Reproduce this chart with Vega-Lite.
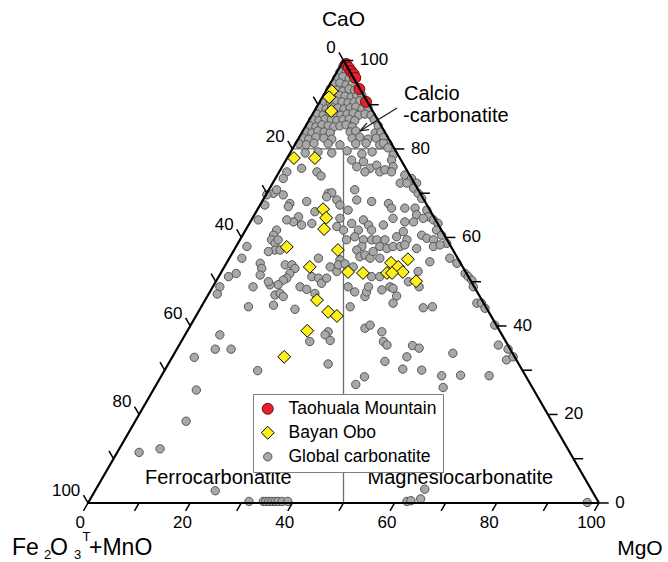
{
"$schema": "https://vega.github.io/schema/vega-lite/v6.json",
"width": 668, "height": 562, "autosize": "none", "padding": 0,
"config": {"view": {"stroke": null}, "font": "Liberation Sans",
 "legend": {"orient": "none", "legendX": 253, "legendY": 394, "padding": 6, "rowPadding": 5, "strokeColor": "#808080", "fillColor": "white", "labelFont": "Liberation Sans", "labelFontSize": 17.5, "labelColor": "black", "labelOffset": 12, "labelLimit": 400, "symbolStrokeWidth": 1}},
"datasets": {
 "edges": [{"x":0,"y":0,"x2":100,"y2":0},{"x":0,"y":0,"x2":50,"y2":86.6},{"x":100,"y":0,"x2":50,"y2":86.6}],
 "inner": [{"x":50,"y":0,"x2":50,"y2":69.28},{"x":40,"y":69.28,"x2":60,"y2":69.28}],
 "ticks": [
  {"x":0,"y":0,"x2":-0.9,"y2":-1.56},{"x":10,"y":0,"x2":9.1,"y2":-1.56},{"x":20,"y":0,"x2":19.1,"y2":-1.56},{"x":30,"y":0,"x2":29.1,"y2":-1.56},{"x":40,"y":0,"x2":39.1,"y2":-1.56},{"x":50,"y":0,"x2":49.1,"y2":-1.56},{"x":60,"y":0,"x2":59.1,"y2":-1.56},{"x":70,"y":0,"x2":69.1,"y2":-1.56},{"x":80,"y":0,"x2":79.1,"y2":-1.56},{"x":90,"y":0,"x2":89.1,"y2":-1.56},{"x":100,"y":0,"x2":99.1,"y2":-1.56},
  {"x":100,"y":0,"x2":101.9,"y2":0},{"x":95,"y":8.66,"x2":96.9,"y2":8.66},{"x":90,"y":17.32,"x2":91.9,"y2":17.32},{"x":85,"y":25.98,"x2":86.9,"y2":25.98},{"x":80,"y":34.64,"x2":81.9,"y2":34.64},{"x":75,"y":43.3,"x2":76.9,"y2":43.3},{"x":70,"y":51.96,"x2":71.9,"y2":51.96},{"x":65,"y":60.62,"x2":66.9,"y2":60.62},{"x":60,"y":69.28,"x2":61.9,"y2":69.28},{"x":55,"y":77.94,"x2":56.9,"y2":77.94},{"x":50,"y":86.6,"x2":51.9,"y2":86.6},
  {"x":50,"y":86.6,"x2":49.1,"y2":88.16},{"x":45,"y":77.94,"x2":44.1,"y2":79.5},{"x":40,"y":69.28,"x2":39.1,"y2":70.84},{"x":35,"y":60.62,"x2":34.1,"y2":62.18},{"x":30,"y":51.96,"x2":29.1,"y2":53.52},{"x":25,"y":43.3,"x2":24.1,"y2":44.86},{"x":20,"y":34.64,"x2":19.1,"y2":36.2},{"x":15,"y":25.98,"x2":14.1,"y2":27.54},{"x":10,"y":17.32,"x2":9.1,"y2":18.88},{"x":5,"y":8.66,"x2":4.1,"y2":10.22},{"x":0,"y":0,"x2":-0.9,"y2":1.56}],
 "arrow": [{"x":60.47,"y":77.3,"x2":53.23,"y2":72.8},{"x":53.23,"y":72.8,"x2":54.6,"y2":74.37},{"x":53.23,"y":72.8,"x2":54.99,"y2":73.07}],
 "bottomLabels": [{"x":-1.5,"y":-4,"t":"0"},{"x":18.5,"y":-4,"t":"20"},{"x":38.5,"y":-4,"t":"40"},{"x":58.5,"y":-4,"t":"60"},{"x":78.5,"y":-4,"t":"80"},{"x":98.5,"y":-4,"t":"100"}],
 "rightLabels": [{"x":53.2,"y":86.6,"t":"100"},{"x":63.2,"y":69.28,"t":"80"},{"x":73.2,"y":51.96,"t":"60"},{"x":83.2,"y":34.64,"t":"40"},{"x":93.2,"y":17.32,"t":"20"},{"x":103.2,"y":0,"t":"0"}],
 "leftLabels": [{"x":48.5,"y":89.0,"t":"0"},{"x":38.5,"y":71.68,"t":"20"},{"x":28.5,"y":54.36,"t":"40"},{"x":18.5,"y":37.04,"t":"60"},{"x":8.5,"y":19.72,"t":"80"},{"x":-1.5,"y":2.4,"t":"100"}],
 "titles": [{"x":50,"y":94.5,"t":"CaO"},{"x":108,"y":-9.0,"t":"MgO"}],
 "names": [{"x":11.15,"y":3.72,"t":"Ferrocarbonatite"},{"x":54.7,"y":3.72,"t":"Magnesiocarbonatite"},{"x":61.84,"y":78.87,"t":"Calcio"},{"x":61.64,"y":74.56,"t":"-carbonatite"}],
 "feMain": [{"x":-14.88,"y":-10.17,"t":"Fe"},{"x":-7.44,"y":-10.17,"t":"O"},{"x":0.2,"y":-10.17,"t":"+MnO"}],
 "feSmall": [{"x":-8.61,"y":-10.95,"t":"2"},{"x":-2.74,"y":-10.95,"t":"3"},{"x":-1.08,"y":-7.43,"t":"T"}],
 "points": [
{"x":49.9,"y":85.5,"g":"Global carbonatite"},{"x":49.3,"y":84.3,"g":"Global carbonatite"},{"x":50.5,"y":84.3,"g":"Global carbonatite"},
{"x":48.7,"y":83.2,"g":"Global carbonatite"},{"x":49.9,"y":83.4,"g":"Global carbonatite"},{"x":51.1,"y":83.0,"g":"Global carbonatite"},
{"x":48.1,"y":82.0,"g":"Global carbonatite"},{"x":49.3,"y":82.2,"g":"Global carbonatite"},{"x":50.5,"y":81.8,"g":"Global carbonatite"},{"x":51.7,"y":82.0,"g":"Global carbonatite"},
{"x":47.4,"y":81.0,"g":"Global carbonatite"},{"x":48.7,"y":80.8,"g":"Global carbonatite"},{"x":49.9,"y":80.6,"g":"Global carbonatite"},{"x":51.1,"y":81.0,"g":"Global carbonatite"},{"x":52.2,"y":80.8,"g":"Global carbonatite"},
{"x":46.8,"y":79.6,"g":"Global carbonatite"},{"x":47.9,"y":79.4,"g":"Global carbonatite"},{"x":49.1,"y":79.8,"g":"Global carbonatite"},{"x":50.3,"y":79.6,"g":"Global carbonatite"},{"x":51.5,"y":79.4,"g":"Global carbonatite"},{"x":52.6,"y":79.6,"g":"Global carbonatite"},{"x":53.6,"y":79.8,"g":"Global carbonatite"},
{"x":46.2,"y":78.5,"g":"Global carbonatite"},{"x":47.4,"y":78.3,"g":"Global carbonatite"},{"x":48.5,"y":78.7,"g":"Global carbonatite"},{"x":49.7,"y":78.5,"g":"Global carbonatite"},{"x":50.9,"y":78.3,"g":"Global carbonatite"},{"x":52.1,"y":78.5,"g":"Global carbonatite"},{"x":53.2,"y":78.7,"g":"Global carbonatite"},
{"x":45.4,"y":77.3,"g":"Global carbonatite"},{"x":46.6,"y":77.1,"g":"Global carbonatite"},{"x":47.7,"y":77.5,"g":"Global carbonatite"},{"x":48.9,"y":77.3,"g":"Global carbonatite"},{"x":50.1,"y":77.1,"g":"Global carbonatite"},{"x":51.3,"y":77.3,"g":"Global carbonatite"},{"x":52.4,"y":77.5,"g":"Global carbonatite"},{"x":53.6,"y":77.1,"g":"Global carbonatite"},{"x":54.8,"y":77.3,"g":"Global carbonatite"},
{"x":44.8,"y":76.1,"g":"Global carbonatite"},{"x":46.0,"y":75.9,"g":"Global carbonatite"},{"x":47.2,"y":76.3,"g":"Global carbonatite"},{"x":48.3,"y":76.1,"g":"Global carbonatite"},{"x":49.5,"y":75.9,"g":"Global carbonatite"},{"x":50.7,"y":76.1,"g":"Global carbonatite"},{"x":51.9,"y":76.3,"g":"Global carbonatite"},{"x":53.0,"y":75.9,"g":"Global carbonatite"},{"x":54.2,"y":76.1,"g":"Global carbonatite"},{"x":55.4,"y":75.9,"g":"Global carbonatite"},
{"x":44.0,"y":75.0,"g":"Global carbonatite"},{"x":45.2,"y":74.8,"g":"Global carbonatite"},{"x":46.4,"y":75.1,"g":"Global carbonatite"},{"x":47.6,"y":75.0,"g":"Global carbonatite"},{"x":48.7,"y":74.8,"g":"Global carbonatite"},{"x":49.9,"y":75.0,"g":"Global carbonatite"},{"x":51.1,"y":75.1,"g":"Global carbonatite"},{"x":52.2,"y":74.8,"g":"Global carbonatite"},{"x":56.0,"y":75.0,"g":"Global carbonatite"},
{"x":43.4,"y":73.8,"g":"Global carbonatite"},{"x":44.6,"y":73.6,"g":"Global carbonatite"},{"x":45.8,"y":74.0,"g":"Global carbonatite"},{"x":47.0,"y":73.8,"g":"Global carbonatite"},{"x":48.1,"y":73.6,"g":"Global carbonatite"},{"x":49.3,"y":73.8,"g":"Global carbonatite"},{"x":50.5,"y":74.0,"g":"Global carbonatite"},{"x":51.7,"y":73.6,"g":"Global carbonatite"},{"x":56.8,"y":73.8,"g":"Global carbonatite"},
{"x":42.7,"y":72.6,"g":"Global carbonatite"},{"x":43.8,"y":72.4,"g":"Global carbonatite"},{"x":45.0,"y":72.8,"g":"Global carbonatite"},{"x":46.2,"y":72.6,"g":"Global carbonatite"},{"x":47.4,"y":72.4,"g":"Global carbonatite"},{"x":51.3,"y":72.6,"g":"Global carbonatite"},{"x":52.4,"y":72.8,"g":"Global carbonatite"},{"x":56.2,"y":72.4,"g":"Global carbonatite"},{"x":57.3,"y":72.6,"g":"Global carbonatite"},
{"x":42.1,"y":71.4,"g":"Global carbonatite"},{"x":43.2,"y":71.2,"g":"Global carbonatite"},{"x":44.6,"y":71.6,"g":"Global carbonatite"},{"x":46.2,"y":71.4,"g":"Global carbonatite"},{"x":47.7,"y":71.2,"g":"Global carbonatite"},{"x":51.7,"y":71.4,"g":"Global carbonatite"},{"x":53.2,"y":71.6,"g":"Global carbonatite"},{"x":54.8,"y":71.2,"g":"Global carbonatite"},{"x":56.4,"y":71.4,"g":"Global carbonatite"},{"x":57.9,"y":71.6,"g":"Global carbonatite"},
{"x":41.3,"y":70.3,"g":"Global carbonatite"},{"x":42.7,"y":70.1,"g":"Global carbonatite"},{"x":44.2,"y":70.4,"g":"Global carbonatite"},{"x":47.0,"y":70.3,"g":"Global carbonatite"},{"x":49.3,"y":70.1,"g":"Global carbonatite"},{"x":52.4,"y":70.3,"g":"Global carbonatite"},{"x":54.4,"y":70.4,"g":"Global carbonatite"},{"x":57.1,"y":70.1,"g":"Global carbonatite"},{"x":58.7,"y":70.3,"g":"Global carbonatite"},
{"x":42.5,"y":68.5,"g":"Global carbonatite"},{"x":45.0,"y":68.7,"g":"Global carbonatite"},{"x":47.7,"y":68.5,"g":"Global carbonatite"},{"x":50.7,"y":68.9,"g":"Global carbonatite"},{"x":53.6,"y":68.3,"g":"Global carbonatite"},{"x":55.6,"y":68.7,"g":"Global carbonatite"},
{"x":41.8,"y":65.5,"g":"Global carbonatite"},{"x":44.8,"y":64.8,"g":"Global carbonatite"},{"x":45.6,"y":64.0,"g":"Global carbonatite"},{"x":38.9,"y":64.8,"g":"Global carbonatite"},{"x":38.2,"y":63.5,"g":"Global carbonatite"},
{"x":51.6,"y":67.1,"g":"Global carbonatite"},{"x":52.6,"y":65.8,"g":"Global carbonatite"},{"x":53.9,"y":66.8,"g":"Global carbonatite"},{"x":55.2,"y":65.5,"g":"Global carbonatite"},{"x":54.2,"y":64.8,"g":"Global carbonatite"},{"x":56.5,"y":66.1,"g":"Global carbonatite"},{"x":57.1,"y":64.8,"g":"Global carbonatite"},
{"x":47.0,"y":60.6,"g":"Global carbonatite"},{"x":47.7,"y":60.7,"g":"Global carbonatite"},{"x":46.7,"y":59.9,"g":"Global carbonatite"},{"x":48.7,"y":59.3,"g":"Global carbonatite"},{"x":49.3,"y":58.3,"g":"Global carbonatite"},{"x":52.2,"y":61.3,"g":"Global carbonatite"},{"x":52.6,"y":59.3,"g":"Global carbonatite"},{"x":55.5,"y":59.0,"g":"Global carbonatite"},
{"x":36.3,"y":60.6,"g":"Global carbonatite"},{"x":36.9,"y":61.3,"g":"Global carbonatite"},{"x":35.0,"y":60.3,"g":"Global carbonatite"},{"x":38.2,"y":60.3,"g":"Global carbonatite"},{"x":39.5,"y":58.6,"g":"Global carbonatite"},{"x":39.2,"y":58.0,"g":"Global carbonatite"},{"x":42.8,"y":59.0,"g":"Global carbonatite"},{"x":44.4,"y":57.0,"g":"Global carbonatite"},{"x":43.8,"y":54.7,"g":"Global carbonatite"},{"x":41.2,"y":56.0,"g":"Global carbonatite"},{"x":40.2,"y":55.0,"g":"Global carbonatite"},{"x":38.9,"y":55.4,"g":"Global carbonatite"},{"x":41.8,"y":54.4,"g":"Global carbonatite"},
{"x":49.3,"y":55.7,"g":"Global carbonatite"},{"x":48.7,"y":54.1,"g":"Global carbonatite"},{"x":50.0,"y":53.4,"g":"Global carbonatite"},{"x":50.6,"y":51.5,"g":"Global carbonatite"},{"x":51.6,"y":54.7,"g":"Global carbonatite"},{"x":50.9,"y":57.3,"g":"Global carbonatite"},{"x":53.9,"y":55.4,"g":"Global carbonatite"},{"x":54.9,"y":54.4,"g":"Global carbonatite"},{"x":55.5,"y":53.4,"g":"Global carbonatite"},{"x":52.9,"y":53.4,"g":"Global carbonatite"},{"x":52.2,"y":52.1,"g":"Global carbonatite"},{"x":53.9,"y":51.5,"g":"Global carbonatite"},{"x":53.6,"y":50.2,"g":"Global carbonatite"},{"x":55.5,"y":51.5,"g":"Global carbonatite"},{"x":56.5,"y":51.5,"g":"Global carbonatite"},{"x":57.1,"y":50.2,"g":"Global carbonatite"},
{"x":36.9,"y":53.4,"g":"Global carbonatite"},{"x":36.3,"y":52.4,"g":"Global carbonatite"},{"x":35.9,"y":51.5,"g":"Global carbonatite"},{"x":36.6,"y":50.8,"g":"Global carbonatite"},{"x":37.2,"y":51.5,"g":"Global carbonatite"},{"x":36.6,"y":49.5,"g":"Global carbonatite"},{"x":37.6,"y":49.5,"g":"Global carbonatite"},{"x":31.1,"y":50.2,"g":"Global carbonatite"},{"x":30.1,"y":47.9,"g":"Global carbonatite"},{"x":45.1,"y":47.9,"g":"Global carbonatite"},{"x":49.3,"y":47.6,"g":"Global carbonatite"},{"x":52.6,"y":49.5,"g":"Global carbonatite"},{"x":53.2,"y":48.2,"g":"Global carbonatite"},{"x":54.2,"y":48.5,"g":"Global carbonatite"},{"x":55.2,"y":47.9,"g":"Global carbonatite"},{"x":55.8,"y":49.2,"g":"Global carbonatite"},{"x":57.1,"y":47.9,"g":"Global carbonatite"},{"x":34.6,"y":58.3,"g":"Global carbonatite"},{"x":33.3,"y":55.4,"g":"Global carbonatite"},{"x":35.3,"y":49.2,"g":"Global carbonatite"},
{"x":27.5,"y":44.3,"g":"Global carbonatite"},{"x":29.0,"y":44.9,"g":"Global carbonatite"},{"x":25.8,"y":42.3,"g":"Global carbonatite"},{"x":25.3,"y":40.9,"g":"Global carbonatite"},{"x":25.8,"y":32.9,"g":"Global carbonatite"},
{"x":33.7,"y":46.9,"g":"Global carbonatite"},{"x":34.0,"y":45.9,"g":"Global carbonatite"},{"x":33.7,"y":44.6,"g":"Global carbonatite"},{"x":38.6,"y":46.6,"g":"Global carbonatite"},{"x":39.9,"y":46.6,"g":"Global carbonatite"},{"x":40.5,"y":45.9,"g":"Global carbonatite"},{"x":39.5,"y":44.9,"g":"Global carbonatite"},{"x":38.9,"y":44.0,"g":"Global carbonatite"},{"x":38.2,"y":43.6,"g":"Global carbonatite"},{"x":37.2,"y":42.7,"g":"Global carbonatite"},{"x":35.6,"y":42.7,"g":"Global carbonatite"},{"x":35.3,"y":43.3,"g":"Global carbonatite"},{"x":36.6,"y":40.7,"g":"Global carbonatite"},{"x":37.6,"y":41.0,"g":"Global carbonatite"},{"x":38.2,"y":40.4,"g":"Global carbonatite"},{"x":32.3,"y":42.3,"g":"Global carbonatite"},{"x":31.4,"y":38.4,"g":"Global carbonatite"},{"x":41.5,"y":42.3,"g":"Global carbonatite"},{"x":42.8,"y":41.8,"g":"Global carbonatite"},{"x":44.4,"y":41.0,"g":"Global carbonatite"},{"x":43.8,"y":44.3,"g":"Global carbonatite"},{"x":45.1,"y":44.0,"g":"Global carbonatite"},{"x":45.7,"y":43.0,"g":"Global carbonatite"},{"x":46.7,"y":44.0,"g":"Global carbonatite"},{"x":47.4,"y":46.2,"g":"Global carbonatite"},{"x":48.7,"y":45.3,"g":"Global carbonatite"},{"x":49.0,"y":46.6,"g":"Global carbonatite"},{"x":50.3,"y":46.8,"g":"Global carbonatite"},{"x":51.9,"y":46.2,"g":"Global carbonatite"},{"x":50.9,"y":42.3,"g":"Global carbonatite"},{"x":52.2,"y":41.3,"g":"Global carbonatite"},{"x":54.2,"y":40.4,"g":"Global carbonatite"},{"x":54.5,"y":41.3,"g":"Global carbonatite"},{"x":54.9,"y":42.3,"g":"Global carbonatite"},{"x":55.5,"y":44.3,"g":"Global carbonatite"},{"x":57.1,"y":44.3,"g":"Global carbonatite"},{"x":51.3,"y":38.4,"g":"Global carbonatite"},{"x":36.3,"y":38.7,"g":"Global carbonatite"},{"x":40.5,"y":37.9,"g":"Global carbonatite"},{"x":54.2,"y":34.2,"g":"Global carbonatite"},{"x":55.2,"y":34.8,"g":"Global carbonatite"},{"x":47.0,"y":33.5,"g":"Global carbonatite"},{"x":46.4,"y":32.9,"g":"Global carbonatite"},{"x":47.4,"y":31.8,"g":"Global carbonatite"},{"x":43.4,"y":31.6,"g":"Global carbonatite"},{"x":24.9,"y":30.1,"g":"Global carbonatite"},{"x":28.0,"y":30.1,"g":"Global carbonatite"},{"x":33.2,"y":25.9,"g":"Global carbonatite"},{"x":47.0,"y":27.2,"g":"Global carbonatite"},{"x":54.1,"y":24.7,"g":"Global carbonatite"},{"x":52.4,"y":23.2,"g":"Global carbonatite"},
{"x":57.8,"y":70.4,"g":"Global carbonatite"},{"x":58.7,"y":69.5,"g":"Global carbonatite"},{"x":59.7,"y":68.1,"g":"Global carbonatite"},{"x":59.4,"y":67.1,"g":"Global carbonatite"},{"x":59.7,"y":65.8,"g":"Global carbonatite"},{"x":58.1,"y":65.2,"g":"Global carbonatite"},{"x":59.4,"y":64.8,"g":"Global carbonatite"},{"x":62.0,"y":64.2,"g":"Global carbonatite"},{"x":63.3,"y":63.5,"g":"Global carbonatite"},{"x":64.3,"y":62.6,"g":"Global carbonatite"},{"x":61.1,"y":62.6,"g":"Global carbonatite"},{"x":62.4,"y":62.6,"g":"Global carbonatite"},{"x":63.7,"y":61.6,"g":"Global carbonatite"},{"x":64.6,"y":60.6,"g":"Global carbonatite"},{"x":65.3,"y":59.6,"g":"Global carbonatite"},{"x":58.8,"y":58.6,"g":"Global carbonatite"},{"x":59.4,"y":57.7,"g":"Global carbonatite"},{"x":62.0,"y":57.7,"g":"Global carbonatite"},{"x":64.0,"y":57.7,"g":"Global carbonatite"},{"x":64.3,"y":56.4,"g":"Global carbonatite"},{"x":66.3,"y":57.3,"g":"Global carbonatite"},{"x":66.6,"y":56.0,"g":"Global carbonatite"},{"x":67.6,"y":55.4,"g":"Global carbonatite"},{"x":68.5,"y":54.7,"g":"Global carbonatite"},{"x":68.2,"y":53.4,"g":"Global carbonatite"},{"x":69.2,"y":52.4,"g":"Global carbonatite"},{"x":70.2,"y":50.8,"g":"Global carbonatite"},{"x":65.6,"y":55.7,"g":"Global carbonatite"},{"x":63.7,"y":55.0,"g":"Global carbonatite"},{"x":62.0,"y":55.0,"g":"Global carbonatite"},{"x":59.7,"y":55.7,"g":"Global carbonatite"},{"x":57.8,"y":54.4,"g":"Global carbonatite"},{"x":65.3,"y":52.4,"g":"Global carbonatite"},{"x":66.3,"y":51.8,"g":"Global carbonatite"},{"x":67.6,"y":51.5,"g":"Global carbonatite"},{"x":67.6,"y":50.2,"g":"Global carbonatite"},{"x":61.7,"y":53.1,"g":"Global carbonatite"},{"x":60.4,"y":52.1,"g":"Global carbonatite"},{"x":62.4,"y":51.5,"g":"Global carbonatite"},{"x":58.1,"y":51.5,"g":"Global carbonatite"},{"x":58.5,"y":49.8,"g":"Global carbonatite"},{"x":59.7,"y":50.2,"g":"Global carbonatite"},{"x":61.1,"y":50.2,"g":"Global carbonatite"},{"x":62.0,"y":50.5,"g":"Global carbonatite"},{"x":64.3,"y":49.8,"g":"Global carbonatite"},{"x":68.9,"y":50.5,"g":"Global carbonatite"},{"x":70.8,"y":47.9,"g":"Global carbonatite"},{"x":72.2,"y":46.9,"g":"Global carbonatite"},{"x":66.9,"y":47.2,"g":"Global carbonatite"},{"x":73.8,"y":44.9,"g":"Global carbonatite"},{"x":74.4,"y":44.3,"g":"Global carbonatite"},{"x":64.6,"y":45.3,"g":"Global carbonatite"},
{"x":75.1,"y":43.6,"g":"Global carbonatite"},{"x":75.4,"y":42.3,"g":"Global carbonatite"},{"x":76.1,"y":39.1,"g":"Global carbonatite"},{"x":77.0,"y":39.1,"g":"Global carbonatite"},{"x":77.7,"y":38.1,"g":"Global carbonatite"},{"x":79.6,"y":34.8,"g":"Global carbonatite"},{"x":80.3,"y":30.9,"g":"Global carbonatite"},{"x":82.2,"y":30.1,"g":"Global carbonatite"},{"x":81.9,"y":28.0,"g":"Global carbonatite"},{"x":83.2,"y":28.6,"g":"Global carbonatite"},{"x":59.1,"y":42.3,"g":"Global carbonatite"},{"x":59.7,"y":42.0,"g":"Global carbonatite"},{"x":60.4,"y":40.5,"g":"Global carbonatite"},{"x":59.7,"y":39.1,"g":"Global carbonatite"},{"x":57.5,"y":41.7,"g":"Global carbonatite"},{"x":65.6,"y":38.2,"g":"Global carbonatite"},{"x":67.4,"y":38.4,"g":"Global carbonatite"},{"x":62.7,"y":43.3,"g":"Global carbonatite"},{"x":64.8,"y":42.3,"g":"Global carbonatite"},{"x":57.5,"y":33.5,"g":"Global carbonatite"},{"x":57.8,"y":31.6,"g":"Global carbonatite"},{"x":58.5,"y":30.9,"g":"Global carbonatite"},{"x":58.1,"y":27.7,"g":"Global carbonatite"},{"x":62.4,"y":28.6,"g":"Global carbonatite"},{"x":63.5,"y":30.8,"g":"Global carbonatite"},{"x":64.8,"y":30.3,"g":"Global carbonatite"},{"x":61.6,"y":26.2,"g":"Global carbonatite"},{"x":65.3,"y":26.0,"g":"Global carbonatite"},{"x":71.4,"y":29.3,"g":"Global carbonatite"},{"x":69.2,"y":24.9,"g":"Global carbonatite"},{"x":69.5,"y":22.6,"g":"Global carbonatite"},{"x":72.9,"y":25.0,"g":"Global carbonatite"},{"x":78.5,"y":24.9,"g":"Global carbonatite"},
{"x":20.8,"y":28.5,"g":"Global carbonatite"},{"x":21.2,"y":22.1,"g":"Global carbonatite"},{"x":19.2,"y":16.0,"g":"Global carbonatite"},{"x":10.0,"y":9.9,"g":"Global carbonatite"},{"x":14.1,"y":10.6,"g":"Global carbonatite"},{"x":24.9,"y":2.4,"g":"Global carbonatite"},
{"x":31.5,"y":0.3,"g":"Global carbonatite"},{"x":34.3,"y":0.3,"g":"Global carbonatite"},{"x":34.8,"y":0.3,"g":"Global carbonatite"},{"x":35.4,"y":0.3,"g":"Global carbonatite"},{"x":36.0,"y":0.3,"g":"Global carbonatite"},{"x":36.6,"y":0.3,"g":"Global carbonatite"},{"x":37.2,"y":0.3,"g":"Global carbonatite"},{"x":38.0,"y":0.3,"g":"Global carbonatite"},{"x":39.1,"y":0.3,"g":"Global carbonatite"},
{"x":62.4,"y":0.3,"g":"Global carbonatite"},{"x":63.2,"y":0.45,"g":"Global carbonatite"},{"x":65.1,"y":0.8,"g":"Global carbonatite"},{"x":65.9,"y":2.7,"g":"Global carbonatite"},{"x":97.7,"y":0.1,"g":"Global carbonatite"},
{"x":47.7,"y":80.6,"g":"Bayan Obo"},{"x":47.2,"y":79.4,"g":"Bayan Obo"},{"x":47.6,"y":76.7,"g":"Bayan Obo"},{"x":40.3,"y":67.5,"g":"Bayan Obo"},{"x":44.4,"y":67.5,"g":"Bayan Obo"},{"x":46.0,"y":57.5,"g":"Bayan Obo"},{"x":46.6,"y":55.8,"g":"Bayan Obo"},{"x":46.2,"y":53.6,"g":"Bayan Obo"},{"x":38.9,"y":50.1,"g":"Bayan Obo"},{"x":48.9,"y":49.5,"g":"Bayan Obo"},{"x":43.4,"y":46.2,"g":"Bayan Obo"},{"x":50.9,"y":45.2,"g":"Bayan Obo"},{"x":53.8,"y":45.0,"g":"Bayan Obo"},{"x":59.3,"y":47.0,"g":"Bayan Obo"},{"x":62.6,"y":47.7,"g":"Bayan Obo"},{"x":60.7,"y":46.2,"g":"Bayan Obo"},{"x":61.6,"y":45.2,"g":"Bayan Obo"},{"x":58.5,"y":45.0,"g":"Bayan Obo"},{"x":59.5,"y":45.0,"g":"Bayan Obo"},{"x":64.2,"y":43.4,"g":"Bayan Obo"},{"x":44.8,"y":39.7,"g":"Bayan Obo"},{"x":47.0,"y":37.4,"g":"Bayan Obo"},{"x":48.7,"y":36.6,"g":"Bayan Obo"},{"x":42.9,"y":33.7,"g":"Bayan Obo"},{"x":38.4,"y":28.6,"g":"Bayan Obo"},
{"x":50.5,"y":85.9,"g":"Taohuala Mountain"},{"x":51.0,"y":85.2,"g":"Taohuala Mountain"},{"x":51.5,"y":84.5,"g":"Taohuala Mountain"},{"x":52.0,"y":83.9,"g":"Taohuala Mountain"},{"x":52.3,"y":83.2,"g":"Taohuala Mountain"},{"x":53.1,"y":81.0,"g":"Taohuala Mountain"},{"x":54.4,"y":78.5,"g":"Taohuala Mountain"}
 ]},
"encoding": {
 "x": {"field": "x", "type": "quantitative", "axis": null, "scale": {"domain": [-17.22, 113.5], "nice": false, "zero": false}},
 "y": {"field": "y", "type": "quantitative", "axis": null, "scale": {"domain": [-11.55, 98.43], "nice": false, "zero": false}}
},
"layer": [
 {"data": {"name": "inner"}, "mark": {"type": "rule", "color": "#6e6e6e", "strokeWidth": 1.3}, "encoding": {"x2": {"field": "x2"}, "y2": {"field": "y2"}}},
 {"data": {"name": "points"}, "mark": {"type": "point", "filled": true, "opacity": 1, "strokeWidth": 1},
  "encoding": {
   "fill": {"field": "g", "type": "nominal", "scale": {"domain": ["Taohuala Mountain", "Bayan Obo", "Global carbonatite"], "range": ["#e8202a", "#fcee21", "#a8a8a8"]}, "legend": {"title": null}},
   "stroke": {"field": "g", "type": "nominal", "scale": {"domain": ["Taohuala Mountain", "Bayan Obo", "Global carbonatite"], "range": ["#6b1010", "#000000", "#555555"]}, "legend": {"title": null}},
   "shape": {"field": "g", "type": "nominal", "scale": {"domain": ["Taohuala Mountain", "Bayan Obo", "Global carbonatite"], "range": ["circle", "diamond", "circle"]}, "legend": {"title": null}},
   "size": {"field": "g", "type": "nominal", "scale": {"type": "ordinal", "domain": ["Taohuala Mountain", "Bayan Obo", "Global carbonatite"], "range": [121, 165, 70]}, "legend": {"title": null}}
  }},
 {"data": {"name": "edges"}, "mark": {"type": "rule", "color": "black", "strokeWidth": 2.2}, "encoding": {"x2": {"field": "x2"}, "y2": {"field": "y2"}}},
 {"data": {"name": "ticks"}, "mark": {"type": "rule", "color": "black", "strokeWidth": 1.5}, "encoding": {"x2": {"field": "x2"}, "y2": {"field": "y2"}}},
 {"data": {"name": "arrow"}, "mark": {"type": "rule", "color": "#222222", "strokeWidth": 1.3}, "encoding": {"x2": {"field": "x2"}, "y2": {"field": "y2"}}},
 {"data": {"name": "bottomLabels"}, "mark": {"type": "text", "align": "center", "baseline": "middle", "fontSize": 17, "font": "Liberation Sans", "color": "black"}, "encoding": {"text": {"field": "t"}}},
 {"data": {"name": "rightLabels"}, "mark": {"type": "text", "align": "left", "baseline": "middle", "fontSize": 17, "font": "Liberation Sans", "color": "black"}, "encoding": {"text": {"field": "t"}}},
 {"data": {"name": "leftLabels"}, "mark": {"type": "text", "align": "right", "baseline": "middle", "fontSize": 17, "font": "Liberation Sans", "color": "black"}, "encoding": {"text": {"field": "t"}}},
 {"data": {"name": "titles"}, "mark": {"type": "text", "align": "center", "baseline": "middle", "fontSize": 21, "font": "Liberation Sans", "color": "black"}, "encoding": {"text": {"field": "t"}}},
 {"data": {"name": "names"}, "mark": {"type": "text", "align": "left", "baseline": "alphabetic", "fontSize": 20, "font": "Liberation Sans", "color": "black"}, "encoding": {"text": {"field": "t"}}},
 {"data": {"name": "feMain"}, "mark": {"type": "text", "align": "left", "baseline": "alphabetic", "fontSize": 23, "font": "Liberation Sans", "color": "black"}, "encoding": {"text": {"field": "t"}}},
 {"data": {"name": "feSmall"}, "mark": {"type": "text", "align": "left", "baseline": "alphabetic", "fontSize": 13, "font": "Liberation Sans", "color": "black"}, "encoding": {"text": {"field": "t"}}}
]
}
